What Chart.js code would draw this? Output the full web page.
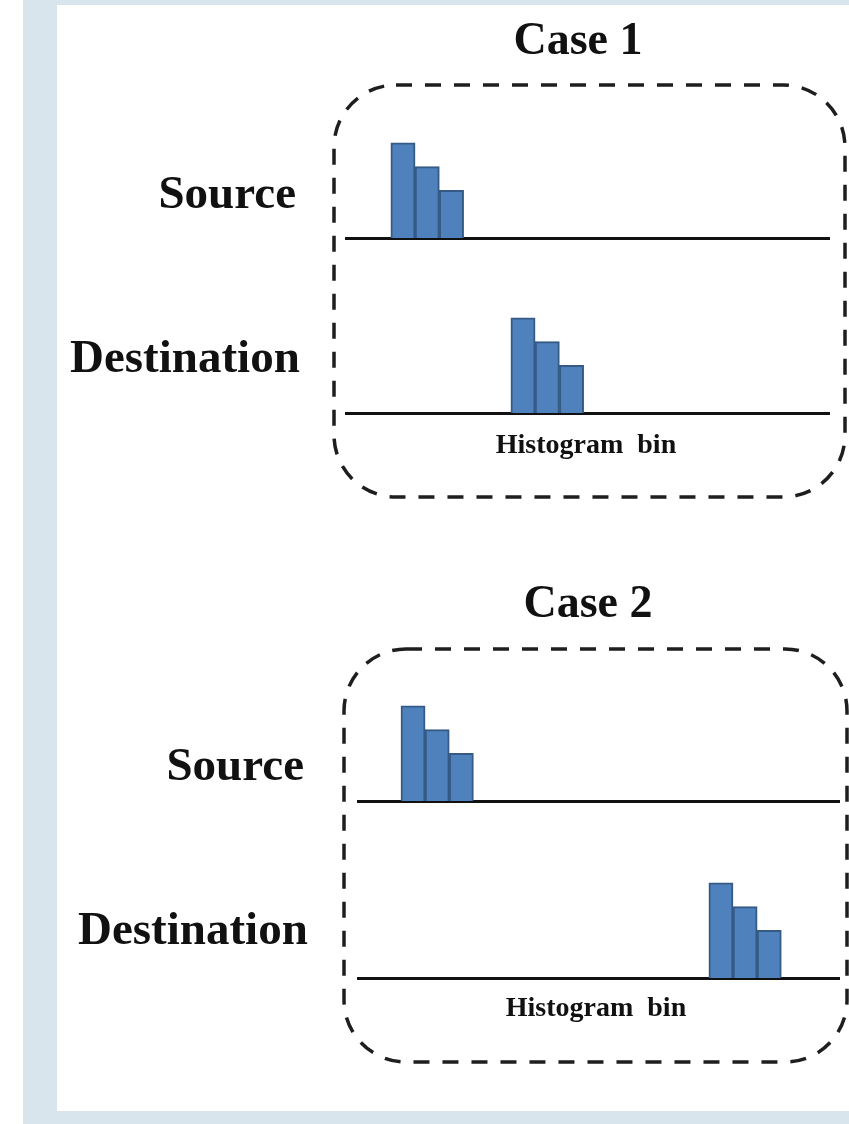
<!DOCTYPE html>
<html>
<head>
<meta charset="utf-8">
<script src="https://cdn.jsdelivr.net/npm/chart.js@4.4.1/dist/chart.umd.min.js"></script>
<style>
  html, body { margin: 0; padding: 0; }
  body { width: 849px; height: 1124px; position: relative; background: #fff; overflow: hidden; }
  #frame { position: absolute; left: 23px; top: 0; width: 826px; height: 1124px; background: #d9e5ec; }
  #panel { position: absolute; left: 57px; top: 5px; width: 792px; height: 1106px; background: #fff; }
  #boxes { position: absolute; left: 0; top: 0; }
  .lbl { position: absolute; font-family: "Liberation Serif", "Times New Roman", serif; font-weight: bold; color: #111; white-space: pre; }
  .row { position: absolute; }
</style>
</head>
<body>
<div id="frame"></div>
<div id="panel"></div>
<canvas id="boxes" width="849" height="1124"></canvas>

<script>
// bin heights of the histogram (same shape in every row)
const binHeights = [4, 3, 2];

// bin positions on the "Histogram bin" axis
const case1SourceBins = [2, 3, 4];
const case1DestBins = [7, 8, 9];
const case2SourceBins = [2, 3, 4];
const case2DestBins = [15, 16, 17];

const caseTitles = ["Case 1", "Case 2"];
const rowLabels = ["Source", "Destination"];
const axisLabel = "Histogram  bin";

// where each little chart sits on the page
const rows = [
  { bins: case1SourceBins, left: 345, width: 485, baseline: 238, xMin: -0.39 },
  { bins: case1DestBins,   left: 345, width: 485, baseline: 413, xMin: -0.34 },
  { bins: case2SourceBins, left: 357, width: 483, baseline: 801, xMin: -0.32 },
  { bins: case2DestBins,   left: 357, width: 483, baseline: 978, xMin: -0.07 }
];

const AREA_H = 119, PAD_T = 10, PAD_B = 6;

rows.forEach(function(r, i){
  var c = document.createElement('canvas');
  c.className = 'row';
  c.width = r.width;
  c.height = PAD_T + AREA_H + PAD_B;
  c.style.left = r.left + 'px';
  c.style.top = (r.baseline - AREA_H - PAD_T) + 'px';
  document.body.appendChild(c);

  new Chart(c, {
    type: 'bar',
    data: {
      datasets: [{
        data: r.bins.map(function(b, k){ return { x: b, y: binHeights[k] }; }),
        backgroundColor: '#4f81bd',
        borderColor: '#365a86',
        borderWidth: 2,
        barThickness: r.width / 20
      }]
    },
    options: {
      responsive: false,
      animation: false,
      events: [],
      layout: { padding: { top: PAD_T, bottom: PAD_B, left: 0, right: 0 } },
      plugins: { legend: { display: false }, tooltip: { enabled: false } },
      scales: {
        x: {
          type: 'linear',
          offset: false,
          min: r.xMin,
          max: r.xMin + 20,
          grid: { display: false, drawTicks: false, offset: false },
          ticks: { display: false },
          border: { display: true, color: '#111', width: 3 }
        },
        y: {
          display: false,
          min: 0,
          max: 5
        }
      }
    }
  });
});

// dashed rounded frames around each case
var ctx = document.getElementById('boxes').getContext('2d');
ctx.strokeStyle = '#1e1e1e';
ctx.lineWidth = 3.5;
ctx.setLineDash([16, 13]);
ctx.beginPath();
ctx.roundRect(334, 85, 511, 412, 62);
ctx.stroke();
ctx.beginPath();
ctx.roundRect(344, 649, 503, 413, 62);
ctx.stroke();

// text labels
function addLabel(text, size, x, baseline, align){
  var d = document.createElement('div');
  d.className = 'lbl';
  d.textContent = text;
  d.style.fontSize = size + 'px';
  d.style.lineHeight = size + 'px';
  d.style.top = (baseline - 0.8375 * size) + 'px';
  d.style.width = '400px';
  d.style.textAlign = align;
  if (align === 'center') d.style.left = (x - 200) + 'px';
  else if (align === 'right') d.style.left = (x - 400) + 'px';
  else d.style.left = x + 'px';
  document.body.appendChild(d);
}

addLabel(caseTitles[0], 46, 578, 55, 'center');
addLabel(rowLabels[0], 47, 296, 208, 'right');
addLabel(rowLabels[1], 47, 70, 372, 'left');
addLabel(axisLabel, 28, 586, 453, 'center');

addLabel(caseTitles[1], 46, 588, 618, 'center');
addLabel(rowLabels[0], 47, 304, 780, 'right');
addLabel(rowLabels[1], 47, 78, 944, 'left');
addLabel(axisLabel, 28, 596, 1016, 'center');
</script>
</body>
</html>
